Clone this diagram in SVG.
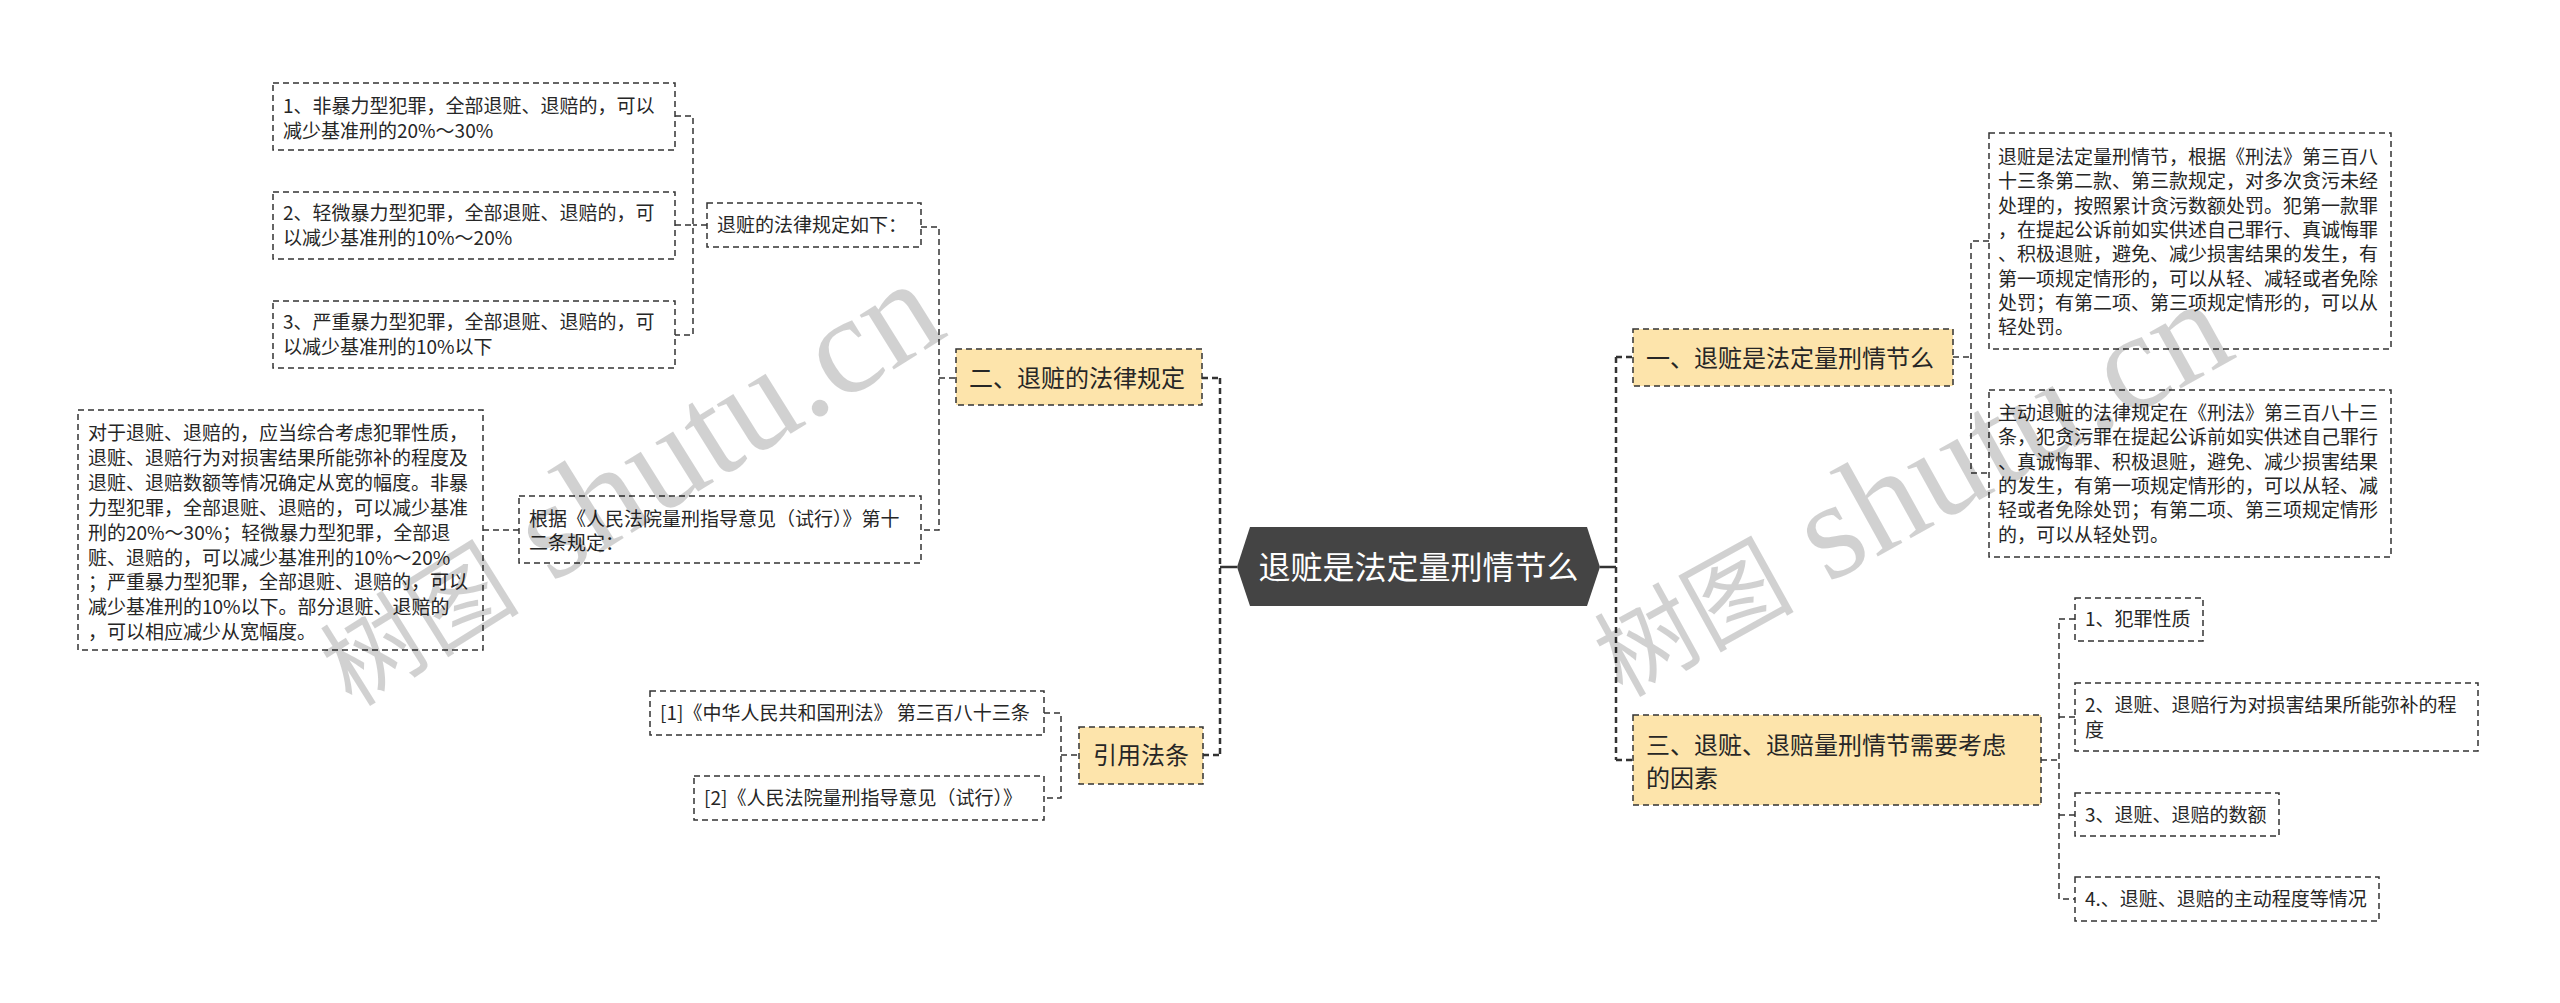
<svg xmlns="http://www.w3.org/2000/svg" width="2560" height="1003" viewBox="0 0 2560 1003">
<style>
.box{fill:#fff;stroke:#333;stroke-width:1.5;stroke-dasharray:6 4}
.ybox{fill:#FDE4AB;stroke:#333;stroke-width:1.5;stroke-dasharray:6 4}
.t{font-family:"Noto Sans CJK SC","Liberation Sans",sans-serif;font-size:19px;fill:#262626}
.tm{font-family:"Noto Sans CJK SC","Liberation Sans",sans-serif;font-size:24px;fill:#262626}
.ln{fill:none;stroke:#333;stroke-width:1.5;stroke-dasharray:6 4}
.tr{fill:none;stroke:#333;stroke-width:2.5;stroke-dasharray:6 4}
.sl{fill:none;stroke:#333;stroke-width:2.5}
.wm{fill:#000;fill-opacity:0.18}
.wc{font-family:"Noto Sans CJK SC",sans-serif;font-size:100px}
.wl{font-family:"Liberation Serif",serif;font-size:140px}
</style>
<rect width="2560" height="1003" fill="#fff"/>
<g id="connectors">
<path class="tr" d="M1220,378 V755 M1202,378 H1220 M1203,755 H1220"/>
<path class="sl" d="M1220,567 H1237"/>
<path class="tr" d="M1616,357 V760 M1616,357 H1633 M1616,760 H1633"/>
<path class="sl" d="M1600,567 H1616"/>
<path class="ln" d="M921,227 H939 V530 H921 M939,378 H956"/>
<path class="ln" d="M707,225 H693 M675,116 H693 V335 H675 M675,225 H693"/>
<path class="ln" d="M483,530 H519"/>
<path class="ln" d="M1044,713 H1061 V798 H1044 M1061,755 H1079"/>
<path class="ln" d="M1953,357 H1971 M1989,241 H1971 V473 H1989"/>
<path class="ln" d="M2041,760 H2059 M2075,619 H2059 V899 H2075 M2059,717 H2075 M2059,815 H2075"/>
</g>
<g id="root">
<polygon points="1237,567 1250,527 1587,527 1600,567 1587,606 1250,606" fill="#444"/>
<text x="1418.5" y="579" text-anchor="middle" style="font-family:'Noto Sans CJK SC',sans-serif;font-size:32px;fill:#fff">退赃是法定量刑情节么</text>
</g>
<g id="n2">
<rect class="ybox" x="956" y="349" width="246" height="56"/>
<text class="tm" x="969" y="387">二、退赃的法律规定</text>
</g>
<g id="n2a">
<rect class="box" x="707" y="203" width="214" height="44"/>
<text class="t" x="717" y="232">退赃的法律规定如下：</text>
</g>
<g id="n2a1">
<rect class="box" x="273" y="83" width="402" height="67"/>
<text class="t" x="283" y="113">1、非暴力型犯罪，全部退赃、退赔的，可以</text>
<text class="t" x="283" y="138">减少基准刑的20%～30%</text>
</g>
<g id="n2a2">
<rect class="box" x="273" y="192" width="402" height="67"/>
<text class="t" x="283" y="220">2、轻微暴力型犯罪，全部退赃、退赔的，可</text>
<text class="t" x="283" y="245">以减少基准刑的10%～20%</text>
</g>
<g id="n2a3">
<rect class="box" x="273" y="301" width="402" height="67"/>
<text class="t" x="283" y="329">3、严重暴力型犯罪，全部退赃、退赔的，可</text>
<text class="t" x="283" y="354">以减少基准刑的10%以下</text>
</g>
<g id="n2b">
<rect class="box" x="519" y="496" width="402" height="67"/>
<text class="t" x="529" y="526">根据《人民法院量刑指导意见（试行）》第十</text>
<text class="t" x="529" y="550">二条规定：</text>
</g>
<g id="n2b1">
<rect class="box" x="78" y="410" width="405" height="240"/>
<text class="t" x="88" y="440">对于退赃、退赔的，应当综合考虑犯罪性质，</text>
<text class="t" x="88" y="464.9">退赃、退赔行为对损害结果所能弥补的程度及</text>
<text class="t" x="88" y="489.8">退赃、退赔数额等情况确定从宽的幅度。非暴</text>
<text class="t" x="88" y="514.7">力型犯罪，全部退赃、退赔的，可以减少基准</text>
<text class="t" x="88" y="539.6">刑的20%～30%；轻微暴力型犯罪，全部退</text>
<text class="t" x="88" y="564.5">赃、退赔的，可以减少基准刑的10%～20%</text>
<text class="t" x="88" y="589.4">；严重暴力型犯罪，全部退赃、退赔的，可以</text>
<text class="t" x="88" y="614.3">减少基准刑的10%以下。部分退赃、退赔的</text>
<text class="t" x="88" y="639.2">，可以相应减少从宽幅度。</text>
</g>
<g id="n3">
<rect class="ybox" x="1079" y="727" width="124" height="57"/>
<text class="tm" x="1093" y="764">引用法条</text>
</g>
<g id="n3a">
<rect class="box" x="650" y="691" width="394" height="44"/>
<text class="t" x="660" y="720">[1]《中华人民共和国刑法》 第三百八十三条</text>
</g>
<g id="n3b">
<rect class="box" x="694" y="776" width="350" height="44"/>
<text class="t" x="704" y="805">[2]《人民法院量刑指导意见（试行）》</text>
</g>
<g id="n1">
<rect class="ybox" x="1633" y="329" width="320" height="57"/>
<text class="tm" x="1646" y="367">一、退赃是法定量刑情节么</text>
</g>
<g id="n1a">
<rect class="box" x="1989" y="133" width="402" height="216"/>
<text class="t" x="1998" y="164">退赃是法定量刑情节，根据《刑法》第三百八</text>
<text class="t" x="1998" y="188.3">十三条第二款、第三款规定，对多次贪污未经</text>
<text class="t" x="1998" y="212.6">处理的，按照累计贪污数额处罚。犯第一款罪</text>
<text class="t" x="1998" y="236.9">，在提起公诉前如实供述自己罪行、真诚悔罪</text>
<text class="t" x="1998" y="261.2">、积极退赃，避免、减少损害结果的发生，有</text>
<text class="t" x="1998" y="285.5">第一项规定情形的，可以从轻、减轻或者免除</text>
<text class="t" x="1998" y="309.8">处罚；有第二项、第三项规定情形的，可以从</text>
<text class="t" x="1998" y="334.1">轻处罚。</text>
</g>
<g id="n1b">
<rect class="box" x="1989" y="390" width="402" height="167"/>
<text class="t" x="1998" y="420">主动退赃的法律规定在《刑法》第三百八十三</text>
<text class="t" x="1998" y="444.3">条，犯贪污罪在提起公诉前如实供述自己罪行</text>
<text class="t" x="1998" y="468.6">、真诚悔罪、积极退赃，避免、减少损害结果</text>
<text class="t" x="1998" y="492.9">的发生，有第一项规定情形的，可以从轻、减</text>
<text class="t" x="1998" y="517.2">轻或者免除处罚；有第二项、第三项规定情形</text>
<text class="t" x="1998" y="541.5">的，可以从轻处罚。</text>
</g>
<g id="n4">
<rect class="ybox" x="1633" y="715" width="408" height="90"/>
<text class="tm" x="1646" y="754">三、退赃、退赔量刑情节需要考虑</text>
<text class="tm" x="1646" y="787">的因素</text>
</g>
<g id="n4a">
<rect class="box" x="2075" y="598" width="128" height="43"/>
<text class="t" x="2085" y="626">1、犯罪性质</text>
</g>
<g id="n4b">
<rect class="box" x="2075" y="683" width="403" height="68"/>
<text class="t" x="2085" y="712">2、退赃、退赔行为对损害结果所能弥补的程</text>
<text class="t" x="2085" y="737">度</text>
</g>
<g id="n4c">
<rect class="box" x="2075" y="793" width="204" height="43"/>
<text class="t" x="2085" y="822">3、退赃、退赔的数额</text>
</g>
<g id="n4d">
<rect class="box" x="2075" y="877" width="304" height="44"/>
<text class="t" x="2085" y="906">4.、退赃、退赔的主动程度等情况</text>
</g>
<g id="watermark">
<text class="wm" transform="translate(352,708) rotate(-32)"><tspan class="wc">树图</tspan><tspan class="wl"> shutu.cn</tspan></text>
<text class="wm" transform="translate(1622,698) rotate(-29)"><tspan class="wc">树图</tspan><tspan class="wl"> shutu.cn</tspan></text>
</g>
</svg>
